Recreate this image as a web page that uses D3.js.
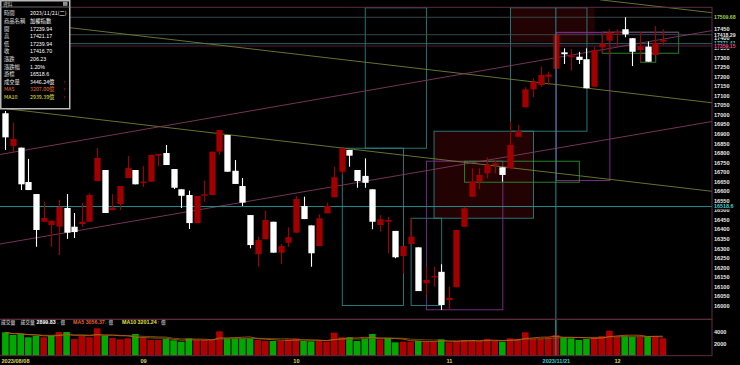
<!DOCTYPE html>
<html><head><meta charset="utf-8">
<script src="https://cdn.jsdelivr.net/npm/d3@7/dist/d3.min.js"></script>
<style>body{margin:0;background:#000;overflow:hidden}svg{display:block}</style>
</head><body>
<svg id="c" width="740" height="365"></svg>
<script>
// ---------- DATA ----------
const dates = ["2023/08/08","2023/08/09","2023/08/10","2023/08/11","2023/08/14","2023/08/15","2023/08/16","2023/08/17","2023/08/18","2023/08/21","2023/08/22","2023/08/23","2023/08/24","2023/08/25","2023/08/28","2023/08/29","2023/08/30","2023/08/31",
"2023/09/01","2023/09/04","2023/09/05","2023/09/06","2023/09/07","2023/09/08","2023/09/11","2023/09/12","2023/09/13","2023/09/14","2023/09/15","2023/09/18","2023/09/19","2023/09/20","2023/09/21","2023/09/22","2023/09/25","2023/09/26","2023/09/27","2023/09/28",
"2023/10/02","2023/10/03","2023/10/04","2023/10/05","2023/10/06","2023/10/11","2023/10/12","2023/10/13","2023/10/16","2023/10/17","2023/10/18","2023/10/19","2023/10/20","2023/10/23","2023/10/24","2023/10/25","2023/10/26","2023/10/27","2023/10/30","2023/10/31",
"2023/11/01","2023/11/02","2023/11/03","2023/11/06","2023/11/07","2023/11/08","2023/11/09","2023/11/10","2023/11/13","2023/11/14","2023/11/15","2023/11/16","2023/11/17","2023/11/20","2023/11/21","2023/11/22","2023/11/23","2023/11/24","2023/11/27","2023/11/28","2023/11/29","2023/11/30",
"2023/12/01","2023/12/04","2023/12/05","2023/12/06","2023/12/07","2023/12/08","2023/12/11"];

const openP = [17007,16836,16827,16647,16584,16439,16422,16413,16511,16413,16427,16439,16652,16710,16500,16532,16668,16710,16642,16649,16785,16799,16715,16609,16579,16432,16575,16579,16806,16893,16706,16626,16474,16269,16347,16439,16277,16329,16382,16521,16420,16312,16483,16567,16701,16815,16710,16679,16609,16422,16439,16391,16260,16322,16305,16117,16148,16177,16029,16096,16413,16570,16649,16693,16736,16724,16719,16884,17038,17132,17155,17198,17239.94,17326,17300,17303,17290,17146,17352,17387,17426,17447,17400,17338,17356,17312,17382];
const highP = [17019,16958,16827,16768,16584,16544,16445,16553,16584,16485,16537,16588,16825,16710,16584,16626,16783,16710,16731,16789,16794,16841,16715,16609,16602,16574,16654,16806,16919,16893,16762,16668,16474,16361,16497,16439,16322,16410,16574,16570,16420,16478,16539,16727,16824,16815,16710,16771,16609,16474,16465,16391,16312,16460,16305,16204,16204,16216,16099,16396,16518,16719,16719,16776,16759,16724,16963,16946,17143,17190,17251,17225,17421.17,17347,17342,17329,17347,17356,17434,17447,17447,17509.68,17400,17434,17382,17464,17447];
const lowP = [16815,16800,16605,16605,16308,16439,16308,16265,16349,16354,16413,16439,16652,16485,16500,16500,16668,16635,16621,16649,16731,16736,16610,16511,16401,16432,16544,16579,16789,16701,16637,16521,16300,16204,16347,16277,16218,16308,16382,16453,16204,16312,16483,16567,16684,16727,16617,16617,16400,16387,16274,16248,16169,16322,16076,16055,16099,15977,15981,16096,16413,16570,16609,16666,16693,16649,16719,16884,17038,17091,17145,17155,17239.94,17265,17230,17265,17138,17146,17324,17312,17356,17405,17254,17277,17277,17312,17364];
const closeP = [16881,16872,16635,16605,16396,16459,16445,16516,16382,16385,16439,16579,16773,16485,16513,16626,16720,16635,16649,16789,16794,16736,16617,16575,16432,16574,16583,16806,16919,16701,16637,16539,16317,16343,16448,16277,16312,16358,16558,16453,16274,16457,16521,16672,16824,16785,16652,16643,16439,16452,16448,16253,16312,16361,16076,16134,16155,16003,16041,16396,16509,16649,16684,16736,16745,16684,16841,16914,17132,17172,17207,17210.47,17416.70,17316,17310,17286,17138,17338,17373,17429,17434,17420,17329,17358,17277,17376,17391];
const volume = [3900,3450,3620,3070,3330,3070,3330,3950,3950,2780,3280,3070,4570,3330,2950,2730,2900,3620,2950,2620,2620,2780,2560,2340,2900,2620,2620,2620,4060,2900,2900,2900,2900,2620,2450,2450,2450,2730,2900,2450,2400,2450,2340,3840,3070,3070,2450,2900,3620,2730,2900,2230,2340,2340,2450,2340,2340,2730,2230,2450,2620,2620,2450,2780,2450,2340,2900,2780,3900,2900,2900,3070,3446.24,3070,2900,2620,2780,3070,3280,4170,3170,3330,3170,3170,3170,3170,2899.83];

const priceTicks = [16000,16050,16100,16150,16200,16250,16300,16350,16400,16450,16500,16550,16600,16650,16700,16750,16800,16850,16900,16950,17000,17050,17100,17150,17200,17250,17300,17350,17400,17450];
const volTicks = [2000,4000];
const xTickIdx = [0,18,38,58,72,80];
const xTickText = ["2023/08/08","09","10","11","2023/11/21","12"];

// annotation objects drawn on the chart (index units, price units)
const trendLines = [
  {i0:-0.706,v0:17497.9,i1:92.43,v1:17061.8,kind:"olive"},
  {i0:-0.706,v0:17034.6,i1:92.43,v1:16598.4,kind:"olive"},
  {i0:77.78,v0:17601,i1:92.43,v1:17533.5,kind:"olive"},
  {i0:-0.706,v0:16791.1,i1:92.43,v1:17439.8,kind:"pink"},
  {i0:-0.706,v0:16322.5,i1:92.43,v1:16963.9,kind:"pink"}
];
const boxes = [
  {i0:66,i1:77,v0:17561.8,v1:17380,kind:"fill"},
  {i0:56,i1:69,v0:16915.7,v1:16460.2,kind:"tealfill"},
  {i0:47,i1:55,v0:17561.8,v1:16826.7,kind:"teal"},
  {i0:44,i1:52,v0:16826.7,v1:16003.1,kind:"teal"},
  {i0:53,i1:57,v0:16460,v1:16003.1,kind:"teal"},
  {i0:66,i1:76,v0:17561.8,v1:16915.7,kind:"teal"},
  {i0:55,i1:65,v0:16758.6,v1:15980.6,kind:"purple"},
  {i0:72,i1:79,v0:17430.9,v1:16657.6,kind:"purple"},
  {i0:60,i1:75,v0:16758.6,v1:16648.7,kind:"green"},
  {i0:78,i1:88,v0:17434,v1:17324,kind:"green"},
  {i0:83,i1:85,v0:17324,v1:17277,kind:"green"}
];
const hLines = [
  {v:17509.68,label:"17509.68",kind:"grey",lab:"#9fcf4f"},
  {v:17418.29,label:"17418.29",kind:"grey",lab:"#e8e8e8"},
  {v:17371.41,label:"17371.41",kind:"teal2",lab:"#40c8c8"},
  {v:17359.15,label:"17359.15",kind:"maroon",lab:"#e04c8c"}
];
const cursorIdx = 72, cursorVal = 16518.6;

const tipLabels = ["時間","商品名稱","開","高","低","收","漲跌","漲跌幅","游標","成交量","MA5","MA10"];
const tipValues = ["2023/11/21(二)","加權指數","17239.94","17421.17","17239.94","17416.70","206.23","1.20%","16518.6","3446.24億","3207.00億","2939.39億"];
const volLegend = {vol:"2899.83", ma5:"3056.37", ma10:"3201.24"};

// ---------- STYLES ----------
const C = {
  frame:"#5e2c40", up:"#a00000", down:"#ffffff", vUp:"#b00000", vDn:"#00a800",
  olive:"#6f7f33", pink:"#7f3a60", teal:"#2b8080", purple:"#80308f", green:"#2f8f2f",
  grey:"#3f4d4d", teal2:"#2a7272", maroon:"#5e1e36", cursor:"#2a9a9a", axis:"#e6e6e6"
};
const NUM = "'Liberation Sans', Arial, sans-serif";
const CJK = "'Noto Sans CJK TC','Noto Sans CJK SC',sans-serif";

// ---------- SCALES ----------
const PR = 712, PT = 7.3, PB = 319.3, VB = 355.7;
const x = d3.scaleLinear().domain([0, 86]).range([5.4, 662.9]);
const y = d3.scaleLinear().domain([16000, 17600]).range([305.6, 0]);
const yv = d3.scaleLinear().domain([0, 6000]).range([VB, VB - 36]);

const svg = d3.select("#c");
svg.append("rect").attr("width",740).attr("height",365).attr("fill","#000");
const defs = svg.append("defs");
defs.append("clipPath").attr("id","cpMain").append("rect").attr("x",0).attr("y",0).attr("width",PR).attr("height",PB);
defs.append("clipPath").attr("id","cpVol").append("rect").attr("x",0).attr("y",PB).attr("width",PR).attr("height",VB-PB);

const main = svg.append("g").attr("clip-path","url(#cpMain)");

// boxes (fills first)
const boxColor = k => ({teal:C.teal, tealfill:C.teal, purple:C.purple, green:C.green, fill:"none"})[k];
main.selectAll("rect.box").data(boxes).join("rect").attr("class","box")
  .attr("x",d=>x(d.i0)+0.5).attr("y",d=>y(d.v0)+0.5)
  .attr("width",d=>x(d.i1)-x(d.i0)).attr("height",d=>y(d.v1)-y(d.v0))
  .attr("fill",d=>(d.kind==="fill"||d.kind==="tealfill")?"#220203":"none")
  .attr("stroke",d=>boxColor(d.kind)).attr("stroke-width",0.9);

// horizontal lines
main.selectAll("line.h").data(hLines).join("line")
  .attr("x1",0).attr("x2",PR).attr("y1",d=>y(d.v)).attr("y2",d=>y(d.v))
  .attr("stroke",d=>C[d.kind]).attr("stroke-width",0.9);
main.append("line").attr("x1",x(72)).attr("x2",x(88)).attr("y1",y(17430.9)).attr("y2",y(17430.9))
  .attr("stroke",C.purple).attr("stroke-width",0.9);

// trend lines
main.selectAll("line.t").data(trendLines).join("line")
  .attr("x1",d=>x(d.i0)).attr("y1",d=>y(d.v0)).attr("x2",d=>x(d.i1)).attr("y2",d=>y(d.v1))
  .attr("stroke",d=>C[d.kind]).attr("stroke-width",0.9);

// cursor horizontal
main.append("line").attr("x1",0).attr("x2",PR).attr("y1",y(cursorVal)).attr("y2",y(cursorVal))
  .attr("stroke",C.cursor).attr("stroke-width",0.9);

// candles
const idx = d3.range(dates.length);
const bw = 6.3;
const cg = main.append("g");
cg.selectAll("line.w").data(idx).join("line")
  .attr("x1",i=>Math.round(x(i))+0.5).attr("x2",i=>Math.round(x(i))+0.5)
  .attr("y1",i=>y(highP[i])).attr("y2",i=>y(lowP[i]))
  .attr("stroke",i=>closeP[i]>=openP[i]?C.up:C.down).attr("stroke-width",1.1);
cg.selectAll("rect.b").data(idx).join("rect")
  .attr("x",i=>Math.round(x(i))+0.5-bw/2).attr("width",bw)
  .attr("y",i=>y(Math.max(openP[i],closeP[i])))
  .attr("height",i=>Math.max(1.2, Math.abs(y(openP[i])-y(closeP[i]))))
  .attr("fill",i=>closeP[i]>=openP[i]?C.up:C.down);

// cursor vertical (both panels)
svg.append("line").attr("x1",x(cursorIdx)).attr("x2",x(cursorIdx)).attr("y1",PT).attr("y2",VB)
  .attr("stroke",C.cursor).attr("stroke-width",0.9);

// ---------- VOLUME ----------
const vg = svg.append("g").attr("clip-path","url(#cpVol)");
vg.selectAll("rect.v").data(idx).join("rect")
  .attr("x",i=>x(i)-3.3).attr("width",6.6)
  .attr("y",i=>yv(volume[i])).attr("height",i=>yv(0)-yv(volume[i]))
  .attr("fill",i=>{const p = i>0?closeP[i-1]:openP[i]; return closeP[i]>=p?C.vUp:C.vDn;});
function ma(n){return idx.map(i=>{const s=volume.slice(Math.max(0,i-n+1),i+1);return d3.mean(s);});}
const ma5 = ma(5), ma10 = ma(10);
const ln = d3.line().x((d,i)=>x(i)).y(d=>yv(d));
vg.append("path").attr("d",ln(ma10)).attr("fill","none").attr("stroke","#6a5a10").attr("stroke-width",0.9);
vg.append("path").attr("d",ln(ma5)).attr("fill","none").attr("stroke","#d0601a").attr("stroke-width",0.8);
svg.append("line").attr("x1",x(cursorIdx)).attr("x2",x(cursorIdx)).attr("y1",PB).attr("y2",VB)
  .attr("stroke",C.cursor).attr("stroke-width",0.9);

// frames
svg.append("rect").attr("x",-1).attr("y",PT).attr("width",PR+1).attr("height",PB-PT).attr("fill","none").attr("stroke",C.frame).attr("stroke-width",1);
svg.append("rect").attr("x",-1).attr("y",PB).attr("width",PR+1).attr("height",VB-PB).attr("fill","none").attr("stroke",C.frame).attr("stroke-width",1);

// ---------- AXES ----------
const ya = svg.append("g").attr("transform",`translate(${PR},0)`)
  .call(d3.axisRight(y).tickValues(priceTicks).tickSize(0).tickPadding(2).tickFormat(d3.format("d")));
ya.select(".domain").remove();
ya.selectAll("text").attr("fill",C.axis).attr("font-family",NUM).attr("font-size",5.6).attr("font-weight","bold");

const va = svg.append("g").attr("transform",`translate(${PR},0)`)
  .call(d3.axisRight(yv).tickValues(volTicks).tickSize(0).tickPadding(2).tickFormat(d3.format("d")));
va.select(".domain").remove();
va.selectAll("text").attr("fill",C.axis).attr("font-family",NUM).attr("font-size",5.6).attr("font-weight","bold");

// line labels on the right axis (small black backing, as in the reference)
const hl = svg.selectAll("g.hl").data(hLines).join("g");
hl.append("rect").attr("x",PR+1).attr("y",d=>y(d.v)-2.6).attr("width",25).attr("height",5.2).attr("fill","#000");
hl.append("text")
  .attr("x",PR+2).attr("y",d=>y(d.v)).attr("dy","0.35em")
  .attr("fill",d=>d.lab).attr("font-family",NUM).attr("font-size",5.2).attr("font-weight","bold").text(d=>d.label);
svg.append("rect").attr("x",PR+1).attr("y",y(cursorVal)-2.8).attr("width",24).attr("height",5.6).attr("fill","#000");
svg.append("text").attr("x",PR+2).attr("y",y(cursorVal)).attr("dy","0.35em").attr("fill","#40d0d0")
  .attr("font-family",NUM).attr("font-size",5.4).attr("font-weight","bold").text(String(cursorVal));

// x axis
const xa = svg.append("g").attr("transform",`translate(0,${VB})`)
  .call(d3.axisBottom(x).tickValues(xTickIdx).tickSize(0).tickPadding(3.5).tickFormat((d,k)=>xTickText[k]));
xa.select(".domain").remove();
xa.selectAll("text").attr("font-family",NUM).attr("font-size",5.6).attr("font-weight","bold")
  .attr("fill",(d,k)=>k===4?"#40c8c8":"#d8d860");
xa.selectAll("text").filter((d,k)=>k===0).attr("text-anchor","start").attr("x",-4.4);

// volume legend
const lg = svg.append("g").attr("font-weight","bold");
const ly = 324;
const leg = (xx, txt, col, fam, fs) => lg.append("text").attr("x",xx).attr("y",ly).attr("fill",col)
  .attr("font-family",fam).attr("font-size",fs).text(txt);
leg(1,"成交量","#b0b0b0",CJK,4.8);
leg(20.5,"成交量","#b0b0b0",CJK,4.8);
leg(36.5,volLegend.vol,"#ffffff",NUM,5.3);
leg(56.5,"↓","#00c000",NUM,5.3);
leg(60.5,"億","#b0b0b0",CJK,4.6);
leg(73,"MA5 "+volLegend.ma5,"#e0603a",NUM,5.3);
leg(104.5,"↓","#00c000",NUM,5.3);
leg(108.5,"億","#b0b0b0",CJK,4.6);
leg(122,"MA10 "+volLegend.ma10,"#e0e040",NUM,5.3);
leg(157,"↑","#e02020",NUM,5.3);
leg(161,"億","#b0b0b0",CJK,4.6);

// ---------- TOOLTIP ----------
const tp = svg.append("g");
tp.append("rect").attr("x",0.75).attr("y",0.75).attr("width",69).attr("height",108).attr("fill","#000").attr("stroke","#b8b8b8").attr("stroke-width",1.5);
tp.append("line").attr("x1",0).attr("x2",70).attr("y1",7).attr("y2",7).attr("stroke","#808080").attr("stroke-width",0.8);
tp.append("text").attr("x",3).attr("y",5.6).attr("fill","#c0c0c0").attr("font-family",CJK).attr("font-size",4.8).text("資料");
tp.append("rect").attr("x",63).attr("y",1.8).attr("width",4.5).attr("height",4).attr("fill","#909090");
const rowY = k => 13.5 + k*7.6;
tp.selectAll("text.l").data(tipLabels).join("text")
  .attr("x",4).attr("y",(d,k)=>rowY(k)).attr("dy","0.35em")
  .attr("font-family",CJK).attr("font-size",5.3)
  .attr("fill",(d,k)=>k===10?"#e07030":k===11?"#e0e040":"#e0e0e0").text(d=>d);
tp.selectAll("text.v").data(tipValues).join("text")
  .attr("x",30).attr("y",(d,k)=>rowY(k)).attr("dy","0.35em")
  .attr("font-family",(d,k)=>k<=1||k>=9?CJK:NUM).attr("font-size",5.3)
  .attr("fill",(d,k)=>k===10?"#e07030":k===11?"#e0e040":"#ffffff").text(d=>d);
tp.selectAll("text.a").data([9,10,11]).join("text")
  .attr("x",63).attr("y",k=>rowY(k)).attr("dy","0.35em").attr("font-family",NUM).attr("font-size",5.3)
  .attr("fill","#e02020").text("↑");
</script>
</body></html>
